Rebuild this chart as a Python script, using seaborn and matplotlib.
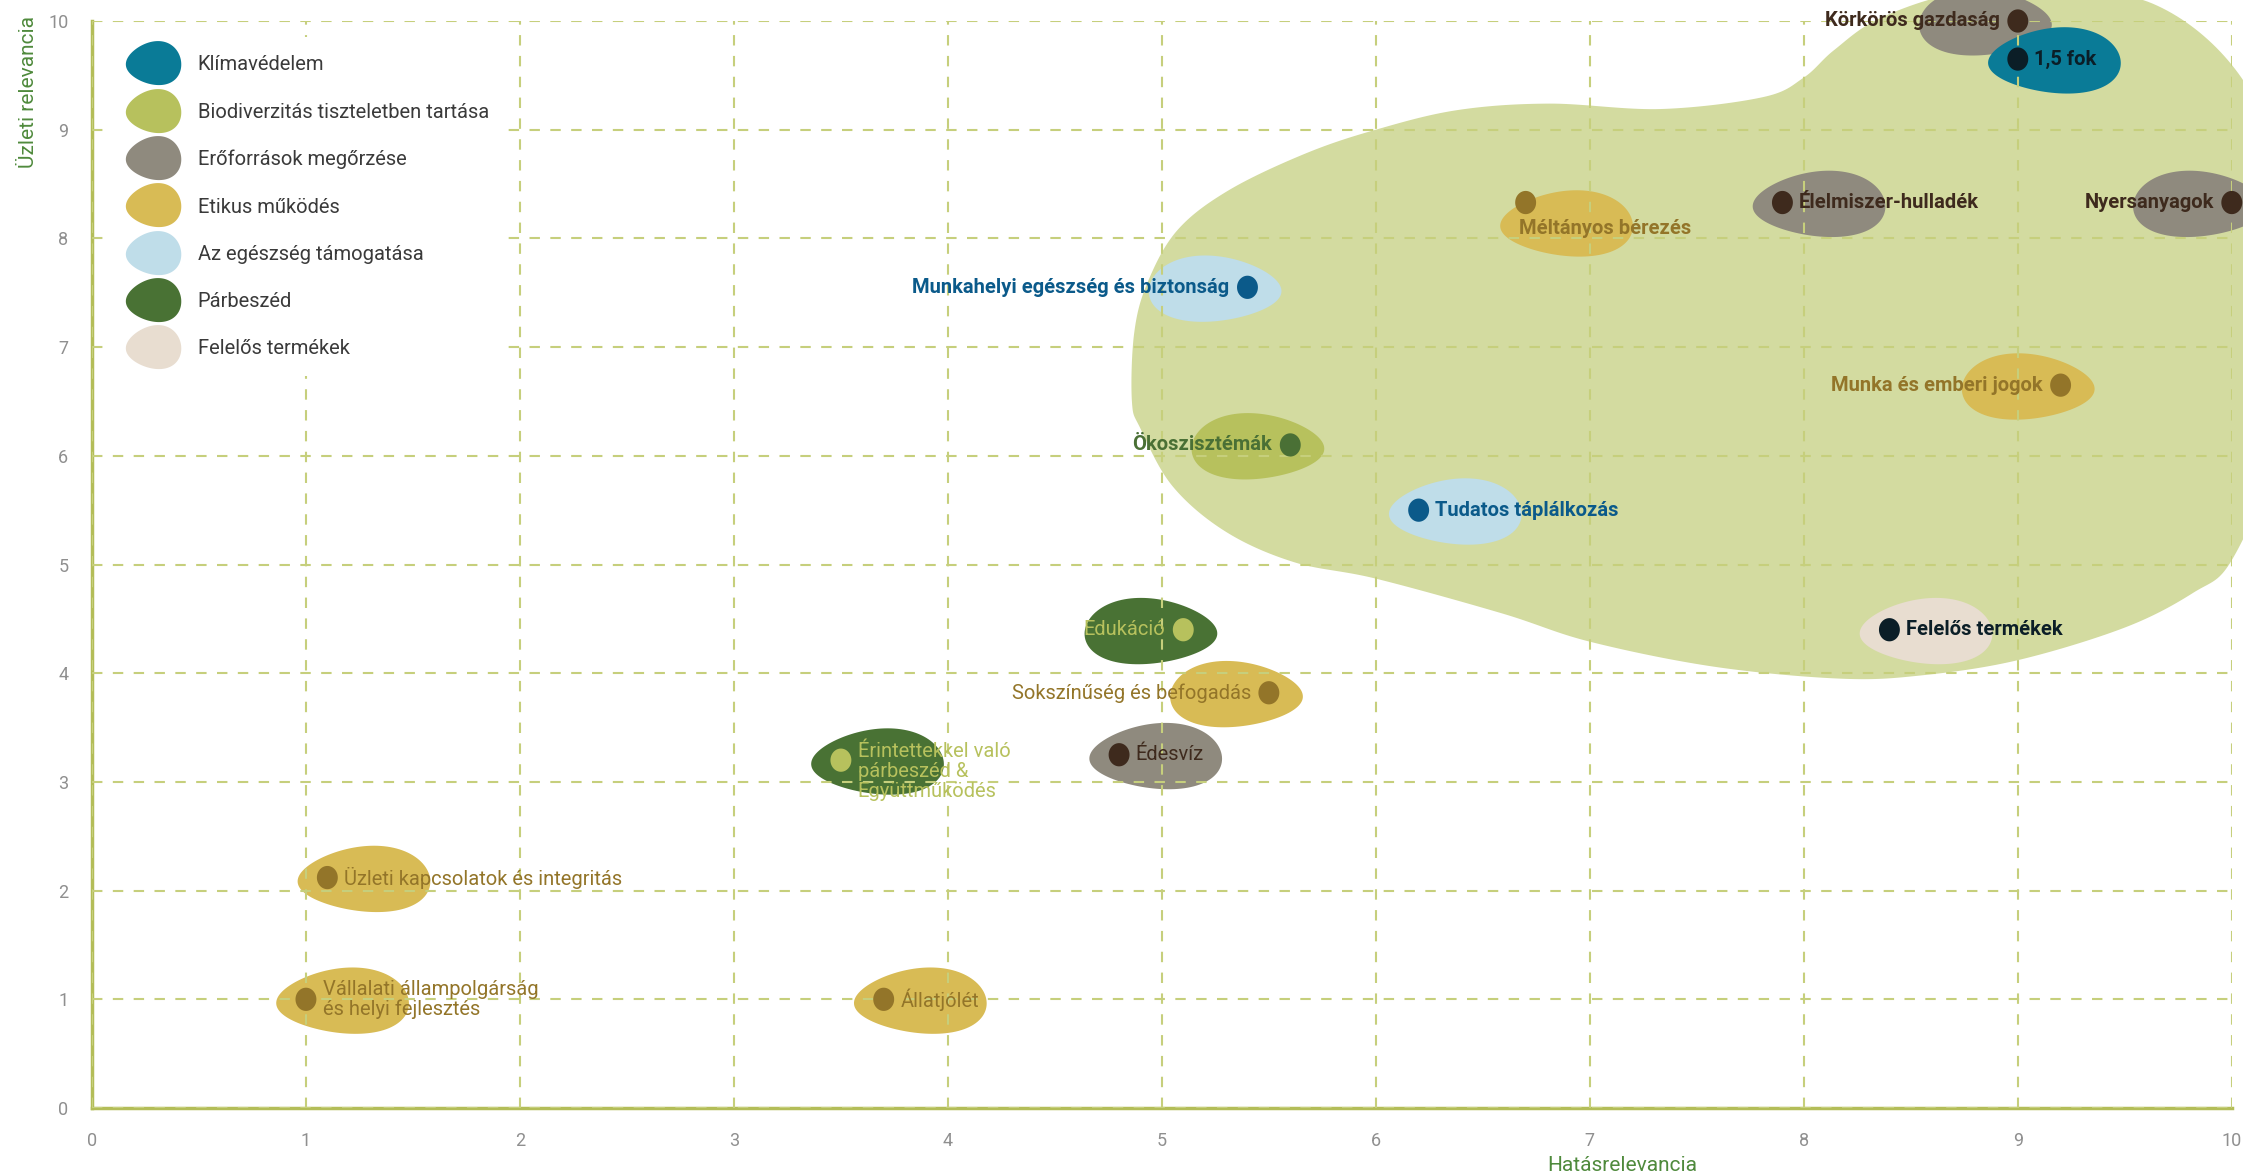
import numpy as np
import pandas as pd
import matplotlib
matplotlib.use("Agg")
import matplotlib.pyplot as plt
from matplotlib.patches import Polygon
from matplotlib.path import Path
from matplotlib.lines import Line2D
import seaborn as sns

# --- data -------------------------------------------------------------
categories = ["Klímavédelem", "Biodiverzitás tiszteletben tartása", "Erőforrások megőrzése",
              "Etikus működés", "Az egészség támogatása", "Párbeszéd", "Felelős termékek"]
blob_colors = ["#0a7b97", "#b7c15d", "#8f8a7e", "#d8bb55", "#bfdde9", "#497234", "#e8ddd0"]
dot_colors = ["#0b1e27", "#4a7035", "#3e2a1d", "#937529", "#0b5a8a", "#b7c15d", "#0b1e27"]

topics = ["Körkörös gazdaság", "1,5 fok", "Élelmiszer-hulladék", "Nyersanyagok",
          "Méltányos bérezés", "Munkahelyi egészség és biztonság", "Munka és emberi jogok",
          "Ökoszisztémák", "Tudatos táplálkozás", "Felelős termékek", "Edukáció",
          "Sokszínűség és befogadás", "Édesvíz", "Érintettekkel való\npárbeszéd &\nEgyüttműködés",
          "Üzleti kapcsolatok és integritás", "Vállalati állampolgárság\nés helyi fejlesztés",
          "Állatjólét"]
impact = [9.0, 9.0, 7.9, 10.0, 6.7, 5.4, 9.2, 5.6, 6.2, 8.4, 5.1, 5.5, 4.8, 3.5, 1.1, 1.0, 3.7]
business = [10.0, 9.65, 8.33, 8.33, 8.33, 7.55, 6.65, 6.1, 5.5, 4.4, 4.4, 3.82, 3.25, 3.2, 2.12, 1.0, 1.0]
topic_category = ["Erőforrások megőrzése", "Klímavédelem", "Erőforrások megőrzése", "Erőforrások megőrzése",
                  "Etikus működés", "Az egészség támogatása", "Etikus működés",
                  "Biodiverzitás tiszteletben tartása", "Az egészség támogatása", "Felelős termékek",
                  "Párbeszéd", "Etikus működés", "Erőforrások megőrzése", "Párbeszéd",
                  "Etikus működés", "Etikus működés", "Etikus működés"]
label_side = ["l", "r", "r", "l", "b", "l", "l", "l", "r", "r", "l", "l", "r", "r", "r", "r", "r"]
key_topic = [True] * 10 + [False] * 7

# outline of the highlighted "material" zone
zone_x = [4.86, 4.87, 4.93, 5.07, 5.31, 5.67, 6.0, 6.38, 6.81, 7.33, 7.81, 8.0, 8.14, 8.35,
          8.7, 9.1, 9.63, 10.03, 10.25, 10.3, 10.2, 10.0, 9.82, 9.5, 9.0, 8.55, 8.17,
          7.58, 7.0, 6.59, 6.0, 5.62, 5.3, 5.05, 4.9]
zone_y = [6.5, 7.12, 7.58, 8.07, 8.44, 8.78, 9.0, 9.18, 9.24, 9.19, 9.3, 9.48, 9.73, 10.02,
          10.25, 10.3, 10.16, 9.52, 8.5, 7.3, 6.0, 5.04, 4.74, 4.42, 4.12, 3.98, 3.95,
          4.06, 4.29, 4.55, 4.87, 5.02, 5.3, 5.72, 6.25]

df = pd.DataFrame({"topic": topics, "impact": impact, "business": business,
                   "category": topic_category, "side": label_side, "key": key_topic})

blob_pal = dict(zip(categories, blob_colors))
dot_pal = dict(zip(categories, dot_colors))


def closed_spline(px, py, n=20):
    P = np.column_stack([px, py])
    N = len(P)
    t = np.linspace(0, 1, n, endpoint=False)[:, None]
    out = []
    for i in range(N):
        p0, p1, p2, p3 = P[i - 1], P[i], P[(i + 1) % N], P[(i + 2) % N]
        out.append(0.5 * (2 * p1 + (-p0 + p2) * t + (2 * p0 - 5 * p1 + 4 * p2 - p3) * t ** 2
                          + (-p0 + 3 * p1 - 3 * p2 + p3) * t ** 3))
    return np.vstack(out)


def egg(cx, cy, a=0.31, b=0.30, flip=False, tilt=8):
    t = np.linspace(0, 2 * np.pi, 120)
    x = np.cos(t)
    y = np.sin(t) * (1 + 0.2 * x)
    if flip:
        x = -x
    ang = np.deg2rad(-tilt if flip else tilt)
    xr = x * np.cos(ang) - y * np.sin(ang)
    yr = x * np.sin(ang) + y * np.cos(ang)
    return np.column_stack([cx + a * xr, cy + b * yr])


sns.set_theme(style="white")
plt.rcParams["font.family"] = ["Liberation Sans Narrow", "Roboto", "DejaVu Sans"]

fig = plt.figure(figsize=(22.43, 11.73), dpi=100)
ax = fig.add_axes([0.041, 0.0554, 0.954, 0.9267])

# big highlighted zone
zone = closed_spline(zone_x, zone_y)
ax.add_patch(Polygon(zone, closed=True, facecolor="#d3dba0", edgecolor="none",
                     zorder=0.5, clip_on=False))

# blobs behind each topic
for _, r in df.iterrows():
    if r.side == "r":
        cx, cy = r.impact + 0.17, r.business - 0.02
    elif r.side == "l":
        cx, cy = r.impact - 0.15, r.business - 0.02
    else:
        cx, cy = r.impact + 0.19, r.business - 0.2
    ax.add_patch(Polygon(egg(cx, cy, flip=(r.side == "l")), closed=True,
                         facecolor=blob_pal[r.category], edgecolor="none",
                         zorder=1, clip_on=False))

# dots
tt = np.linspace(0, 2 * np.pi, 60)
dot_marker = Path(np.column_stack([0.9 * np.cos(tt), np.sin(tt)]), closed=True)
sns.scatterplot(data=df, x="impact", y="business", hue="category", palette=dot_pal,
                marker=dot_marker, s=280, linewidth=0, legend=False, ax=ax,
                zorder=4, clip_on=False)

# labels
for _, r in df.iterrows():
    col = dot_pal[r.category]
    weight = "bold" if r.key else "normal"
    if r.side == "r":
        off, ha, va = (12, 0), "left", "center"
    elif r.side == "l":
        off, ha, va = (-13, 0), "right", "center"
    else:
        off, ha, va = (-5, -19), "left", "center"
    if r.topic.count("\n") == 2:
        off = (12, -8)
    ax.annotate(r.topic, (r.impact, r.business), xytext=off, textcoords="offset points",
                ha=ha, va=va, fontsize=14.5, color=col, fontweight=weight,
                zorder=5, annotation_clip=False, linespacing=1.05)

# axes styling
ax.set_xlim(0, 10)
ax.set_ylim(0, 10)
ax.set_xticks(range(11))
ax.set_yticks(range(11))
ax.set_axisbelow(False)
ax.grid(True, color="#c6cf7c", linestyle=(0, (5, 5)), linewidth=1.5)
for s in ["top", "right"]:
    ax.spines[s].set_visible(False)
for s in ["left", "bottom"]:
    ax.spines[s].set_color("#b3bd58")
    ax.spines[s].set_linewidth(2.5)
    ax.spines[s].set_zorder(2)
ax.tick_params(axis="both", colors="#b3bd58", length=7, width=1.5, labelsize=13,
               labelcolor="#8f8f8f", pad=10)
ax.set_facecolor("none")

ax.set_xlabel("Hatásrelevancia", fontsize=15, color="#4f8a3c")
ax.xaxis.set_label_coords(0.715, -0.044)
ax.set_ylabel("Üzleti relevancia", fontsize=15, color="#4f8a3c")
ax.yaxis.set_label_coords(-0.025, 0.935)

# legend with egg-shaped keys
leg_path = Path(egg(0, 0, a=1.0, b=0.78, tilt=6), closed=True)
handles = [Line2D([], [], linestyle="none", marker=leg_path, markersize=40,
                  markerfacecolor=c, markeredgecolor="none") for c in blob_colors]
leg = ax.legend(handles, categories, loc="upper left", bbox_to_anchor=(0.008, 0.985),
                frameon=True, facecolor="white", edgecolor="none", framealpha=1,
                fontsize=14.5, labelspacing=1.4, handlelength=2.6, handletextpad=0.9,
                borderpad=0.9, borderaxespad=0)
leg.set_zorder(6)
for t in leg.get_texts():
    t.set_color("#3a3a3a")

fig.savefig("out.png", dpi=100)
